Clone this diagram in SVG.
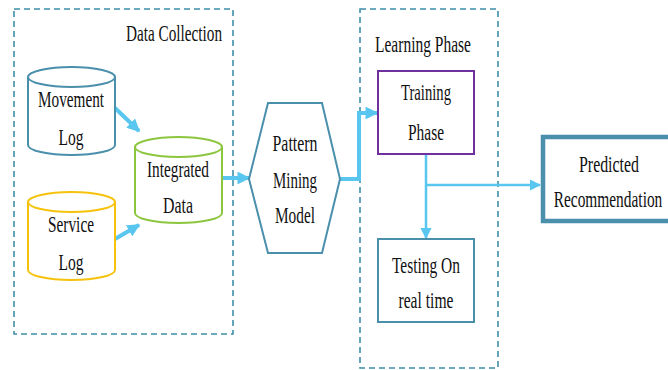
<svg xmlns="http://www.w3.org/2000/svg" width="668" height="370" viewBox="0 0 668 370" font-family="'Liberation Serif', 'Times New Roman', serif">
  <defs>
    <marker id="arrow" viewBox="0 0 10 10" refX="9" refY="5" markerWidth="3.2" markerHeight="3.2" orient="auto" markerUnits="strokeWidth">
      <path d="M0,0 L10,5 L0,10 Z" fill="#58c6ef"/>
    </marker>
    <marker id="arrowThin" viewBox="0 0 10 10" refX="9" refY="5" markerWidth="4.5" markerHeight="4.5" orient="auto" markerUnits="strokeWidth">
      <path d="M0,0 L10,5 L0,10 Z" fill="#58c6ef"/>
    </marker>
  </defs>
  <style>
    text { font-family: 'Liberation Serif', 'Times New Roman', serif; font-size: 23px; fill: #111; text-anchor: middle; }
    .group { fill: none; stroke: #3e8fa9; stroke-width: 1.6; stroke-dasharray: 6 4; }
    .cyl { fill: #fff; stroke-width: 2; }
    .flow { fill: none; stroke: #58c6ef; stroke-width: 4; }
    .flow-thin { fill: none; stroke: #58c6ef; stroke-width: 2.5; }
  </style>
  <rect width="668" height="370" fill="#fff"/>

  <!-- group frames -->
  <g id="data-collection-group">
    <rect class="group" x="14" y="9" width="219" height="325"/>
    <text x="174" y="41" textLength="96" lengthAdjust="spacingAndGlyphs">Data Collection</text>
  </g>
  <g id="learning-phase-group">
    <rect class="group" x="360" y="9" width="138" height="359"/>
    <text x="423" y="52" textLength="96" lengthAdjust="spacingAndGlyphs">Learning Phase</text>
  </g>

  <!-- connectors -->
  <g id="connectors">
    <path class="flow" d="M115,108 L139,131" marker-end="url(#arrow)"/>
    <path class="flow" d="M115,239 L139,225" marker-end="url(#arrow)"/>
    <path class="flow" d="M222,178 L249,178" marker-end="url(#arrow)"/>
    <path class="flow" d="M340,179 L359,179 L359,113 L377,113" marker-end="url(#arrow)"/>
    <path class="flow-thin" d="M426,155 L426,238" marker-end="url(#arrowThin)"/>
    <path class="flow-thin" d="M426,185 L540,185" marker-end="url(#arrowThin)"/>
  </g>

  <!-- nodes -->
  <g id="movement-log">
    <path class="cyl" stroke="#4a8fab" d="M28,77 A43.5,10 0 0 1 115,77 V145 A43.5,10 0 0 1 28,145 Z"/>
    <path class="cyl" stroke="#4a8fab" fill="none" d="M28,77 A43.5,10 0 0 0 115,77"/>
    <text x="71" y="107" textLength="66" lengthAdjust="spacingAndGlyphs">Movement</text>
    <text x="71" y="145" textLength="25" lengthAdjust="spacingAndGlyphs">Log</text>
  </g>
  <g id="service-log">
    <path class="cyl" stroke="#f6c20c" d="M28,202 A43.5,10 0 0 1 115,202 V270 A43.5,10 0 0 1 28,270 Z"/>
    <path class="cyl" stroke="#f6c20c" fill="none" d="M28,202 A43.5,10 0 0 0 115,202"/>
    <text x="71" y="232" textLength="46" lengthAdjust="spacingAndGlyphs">Service</text>
    <text x="71" y="270" textLength="25" lengthAdjust="spacingAndGlyphs">Log</text>
  </g>
  <g id="integrated-data">
    <path class="cyl" stroke="#8cc63f" d="M135,147 A43.5,10 0 0 1 222,147 V213 A43.5,10 0 0 1 135,213 Z"/>
    <path class="cyl" stroke="#8cc63f" fill="none" d="M135,147 A43.5,10 0 0 0 222,147"/>
    <text x="178" y="177" textLength="62" lengthAdjust="spacingAndGlyphs">Integrated</text>
    <text x="178" y="213" textLength="30" lengthAdjust="spacingAndGlyphs">Data</text>
  </g>
  <g id="pattern-mining-model">
    <polygon points="249,179 268,103 322,103 340,179 322,253 268,253" fill="#fff" stroke="#4a8fab" stroke-width="2"/>
    <text x="295" y="151" textLength="45" lengthAdjust="spacingAndGlyphs">Pattern</text>
    <text x="295" y="188" textLength="44" lengthAdjust="spacingAndGlyphs">Mining</text>
    <text x="295" y="223" textLength="40" lengthAdjust="spacingAndGlyphs">Model</text>
  </g>
  <g id="training-phase">
    <rect x="378" y="71" width="96" height="83" fill="#fff" stroke="#7030a0" stroke-width="2"/>
    <text x="426" y="100" textLength="50" lengthAdjust="spacingAndGlyphs">Training</text>
    <text x="426" y="140" textLength="36" lengthAdjust="spacingAndGlyphs">Phase</text>
  </g>
  <g id="testing-real-time">
    <rect x="378" y="239" width="96" height="83" fill="#fff" stroke="#4a8fab" stroke-width="2"/>
    <text x="426" y="273" textLength="68" lengthAdjust="spacingAndGlyphs">Testing On</text>
    <text x="426" y="308" textLength="55" lengthAdjust="spacingAndGlyphs">real time</text>
  </g>
  <g id="predicted-recommendation">
    <rect x="543" y="137" width="130" height="84" fill="#fff" stroke="#4a8fab" stroke-width="4.5"/>
    <text x="609" y="172" textLength="60" lengthAdjust="spacingAndGlyphs">Predicted</text>
    <text transform="translate(608,207) scale(0.67,1)" x="0" y="0">Recommendation</text>
  </g>
</svg>
